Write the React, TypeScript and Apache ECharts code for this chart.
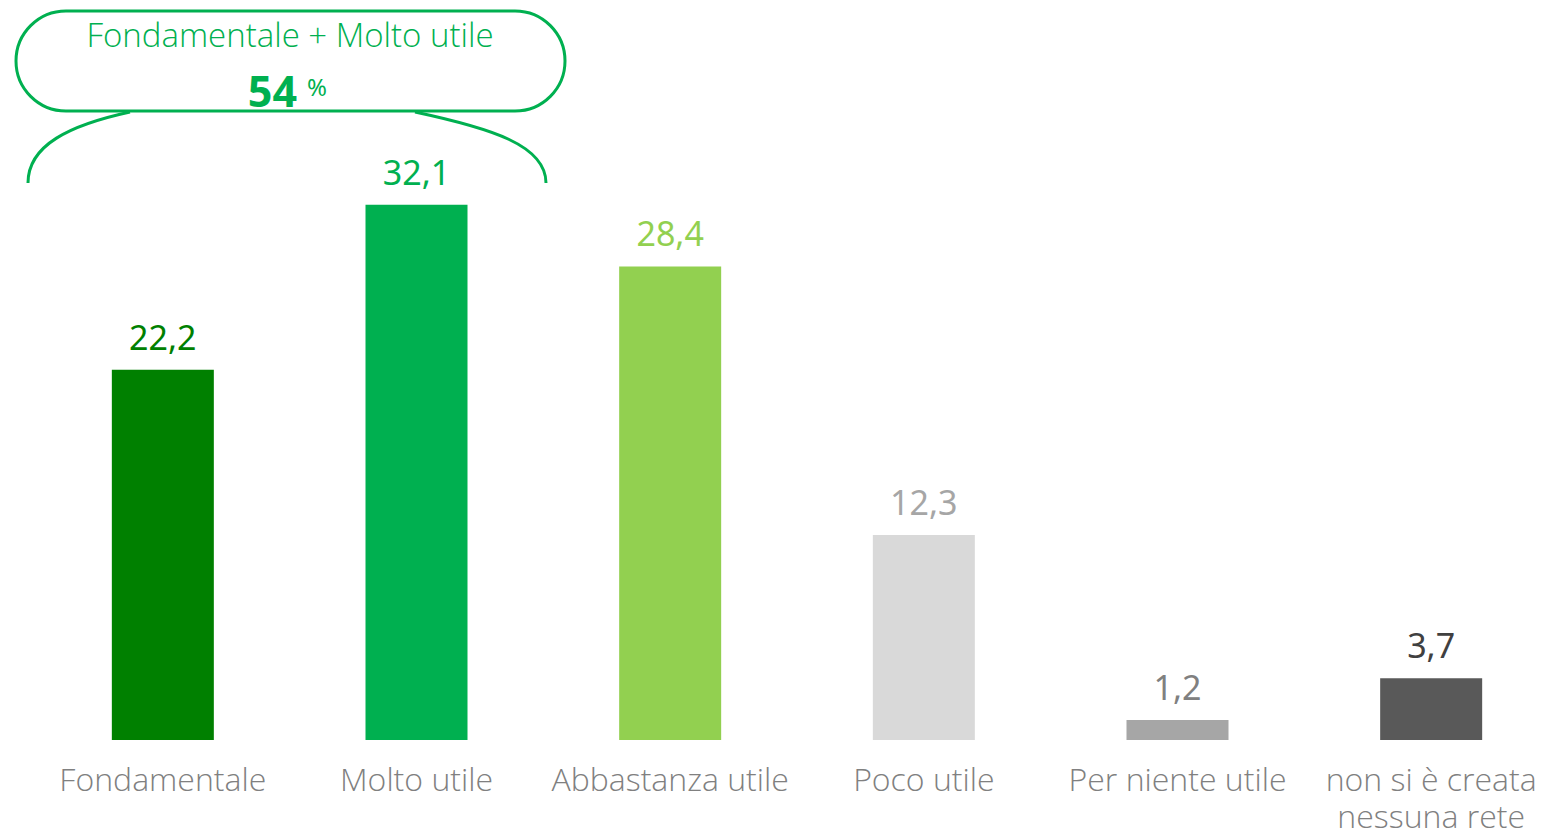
import React, { useEffect, useRef } from "react";
import * as echarts from "echarts";

const categories = [
  "Fondamentale",
  "Molto utile",
  "Abbastanza utile",
  "Poco utile",
  "Per niente utile",
  "non si è creata\nnessuna rete",
];
const values = [22.2, 32.1, 28.4, 12.3, 1.2, 3.7];
const barColors = ["#008000", "#00B050", "#92D050", "#D9D9D9", "#A6A6A6", "#595959"];
const labelColors = ["#008000", "#00B050", "#92D050", "#A6A6A6", "#808080", "#404040"];
const calloutTitle = "Fondamentale + Molto utile";
const calloutValue = "54";
const calloutUnit = "%";

export default function App() {
  const ref = useRef<HTMLDivElement>(null);
  useEffect(() => {
    if (!ref.current) return;
    const chart = echarts.init(ref.current, null, { renderer: "svg" });
    const green = "#00B050";
    chart.setOption({
      animation: false,
      grid: { left: 36, right: 1, top: 73, bottom: 85, containLabel: false },
      xAxis: {
        type: "category",
        data: categories,
        axisLine: { show: false },
        axisTick: { show: false },
        axisLabel: {
          interval: 0,
          color: "#808080",
          fontSize: 32,
          fontFamily: "Open Sans",
          fontWeight: 300,
          lineHeight: 37,
          margin: 20,
          verticalAlign: "top",
        },
      },
      yAxis: { type: "value", min: 0, max: 40, show: false, splitLine: { show: false } },
      series: [
        {
          type: "bar",
          barWidth: 102,
          data: values.map((v, i) => ({
            value: v,
            itemStyle: { color: barColors[i] },
            label: { color: labelColors[i] },
          })),
          label: {
            show: true,
            position: "top",
            distance: 16,
            fontSize: 34,
            fontFamily: "Noto Sans",
            formatter: (p: any) => String(p.value).replace(".", ","),
          },
        },
      ],
      graphic: [
        {
          type: "rect",
          shape: { x: 16, y: 11, width: 549, height: 100, r: 50 },
          style: { fill: "none", stroke: green, lineWidth: 3 },
        },
        {
          type: "bezierCurve",
          shape: { x1: 28, y1: 183, cpx1: 28, cpy1: 145, cpx2: 70, cpy2: 125, x2: 130, y2: 112 },
          style: { fill: "none", stroke: green, lineWidth: 3 },
        },
        {
          type: "bezierCurve",
          shape: { x1: 415, y1: 112, cpx1: 490, cpy1: 128, cpx2: 546, cpy2: 145, x2: 546, y2: 183 },
          style: { fill: "none", stroke: green, lineWidth: 3 },
        },
        {
          type: "text",
          x: 290,
          y: 34,
          style: {
            text: calloutTitle,
            fill: green,
            fontSize: 33,
            fontFamily: "Open Sans",
            fontWeight: 300,
            align: "center",
            verticalAlign: "middle",
          },
        },
        {
          type: "text",
          x: 297,
          y: 90,
          style: {
            text: calloutValue,
            fill: green,
            fontSize: 43,
            fontFamily: "Noto Sans",
            fontWeight: "bold",
            align: "right",
            verticalAlign: "middle",
          },
        },
        {
          type: "text",
          x: 307,
          y: 86,
          style: {
            text: calloutUnit,
            fill: green,
            fontSize: 24,
            fontFamily: "Noto Sans",
            align: "left",
            verticalAlign: "middle",
          },
        },
      ],
    });
    return () => chart.dispose();
  }, []);
  return (
    <div
      ref={ref}
      style={{ position: "absolute", left: 0, top: 0, width: 1559, height: 834, background: "#fff" }}
    />
  );
}
